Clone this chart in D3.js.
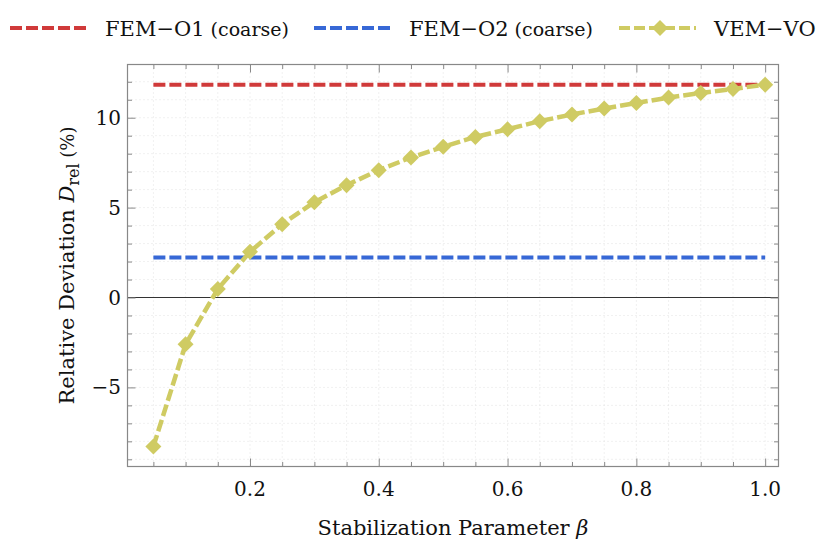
<!DOCTYPE html>
<html>
<head>
<meta charset="utf-8">
<title>Relative deviation vs stabilization parameter</title>
<script src="https://d3js.org/d3.v7.min.js"></script>
<style>
  body { margin: 0; background: #fff; }
  text { font-family: "DejaVu Serif", serif; fill: #111; }
</style>
</head>
<body>
<div id="chart"></div>
<script>
// data
var beta = [0.05, 0.10, 0.15, 0.20, 0.25, 0.30, 0.35, 0.40, 0.45, 0.50,
            0.55, 0.60, 0.65, 0.70, 0.75, 0.80, 0.85, 0.90, 0.95, 1.00]
var vemVO = [-8.29, -2.60, 0.47, 2.54, 4.08, 5.30, 6.25, 7.08, 7.79, 8.38,
             8.93, 9.36, 9.81, 10.18, 10.51, 10.82, 11.12, 11.38, 11.60, 11.84]
var femO1 = 11.84   // coarse, constant
var femO2 = 2.23    // coarse, constant
var xTicks = [0.2, 0.4, 0.6, 0.8, 1.0]
var yTicks = [-5, 0, 5, 10]
var seriesNames = ["FEM\u2212O1", "FEM\u2212O2", "VEM\u2212VO"]
var seriesColors = ["#d03a3a", "#3768d6", "#cfcb63"]

var width = 830, height = 546
var svg = d3.select("#chart").append("svg")
    .attr("width", width)
    .attr("height", height)

// frame box
var fLeft = 127.5, fRight = 778.5, fTop = 64.5, fBottom = 466.5
var x = d3.scaleLinear().domain([0.0098, 1.0207]).range([fLeft, fRight])
var y = d3.scaleLinear().domain([-9.4, 12.96]).range([fBottom, fTop])

var xMinor = d3.range(1, 21).map(function(i) { return i * 0.05 })
var yMinor = d3.range(-9, 13)

// dotted grid
svg.append("g").selectAll("line").data(xMinor).enter().append("line")
    .attr("x1", function(d) { return x(d) }).attr("x2", function(d) { return x(d) })
    .attr("y1", fTop).attr("y2", fBottom)
    .style("stroke", "#e2e2e2").style("stroke-dasharray", "1,3")
svg.append("g").selectAll("line").data(yMinor).enter().append("line")
    .attr("y1", function(d) { return y(d) }).attr("y2", function(d) { return y(d) })
    .attr("x1", fLeft).attr("x2", fRight)
    .style("stroke", "#e2e2e2").style("stroke-dasharray", "1,3")

// zero line
svg.append("line")
    .attr("x1", fLeft).attr("x2", fRight)
    .attr("y1", y(0)).attr("y2", y(0))
    .style("stroke", "#333").style("stroke-width", 1.2)

// axes with inward ticks on all four sides
function isMajorX(d) { return xTicks.some(function(t) { return Math.abs(t - d) < 1e-6 }) }
function isMajorY(d) { return yTicks.indexOf(d) >= 0 }
var tickColor = "#888"
svg.append("g").attr("transform", "translate(0," + fBottom + ")")
    .call(d3.axisBottom(x).tickValues(xMinor).tickSize(0).tickFormat(""))
    .call(function(g) {
        g.select(".domain").remove()
        g.selectAll(".tick line").attr("y2", function(d) { return isMajorX(d) ? -8 : -4.5 })
            .style("stroke", tickColor)
    })
svg.append("g").attr("transform", "translate(0," + fTop + ")")
    .call(d3.axisTop(x).tickValues(xMinor).tickSize(0).tickFormat(""))
    .call(function(g) {
        g.select(".domain").remove()
        g.selectAll(".tick line").attr("y2", function(d) { return isMajorX(d) ? 8 : 4.5 })
            .style("stroke", tickColor)
    })
svg.append("g").attr("transform", "translate(" + fLeft + ",0)")
    .call(d3.axisLeft(y).tickValues(yMinor).tickSize(0).tickFormat(""))
    .call(function(g) {
        g.select(".domain").remove()
        g.selectAll(".tick line").attr("x2", function(d) { return isMajorY(d) ? 8 : 4.5 })
            .style("stroke", tickColor)
    })
svg.append("g").attr("transform", "translate(" + fRight + ",0)")
    .call(d3.axisRight(y).tickValues(yMinor).tickSize(0).tickFormat(""))
    .call(function(g) {
        g.select(".domain").remove()
        g.selectAll(".tick line").attr("x2", function(d) { return isMajorY(d) ? -8 : -4.5 })
            .style("stroke", tickColor)
    })
svg.append("rect")
    .attr("x", fLeft).attr("y", fTop)
    .attr("width", fRight - fLeft).attr("height", fBottom - fTop)
    .style("fill", "none").style("stroke", tickColor).style("stroke-width", 1.2)

// tick labels
svg.append("g").selectAll("text").data(xTicks).enter().append("text")
    .attr("x", function(d) { return x(d) }).attr("y", 496)
    .attr("text-anchor", "middle").style("font-size", "20px")
    .text(function(d) { return d.toFixed(1) })
svg.append("g").selectAll("text").data(yTicks).enter().append("text")
    .attr("x", 121).attr("y", function(d) { return y(d) + 7 })
    .attr("text-anchor", "end").style("font-size", "20px")
    .text(function(d) { return d < 0 ? "\u2212" + Math.abs(d) : d })

// axis titles
var xl = svg.append("text").attr("x", (fLeft + fRight) / 2).attr("y", 535)
    .attr("text-anchor", "middle").style("font-size", "21px")
xl.append("tspan").text("Stabilization Parameter ")
xl.append("tspan").style("font-style", "italic").text("\u03b2")

var yl = svg.append("text")
    .attr("transform", "translate(74," + ((fTop + fBottom) / 2) + ") rotate(-90)")
    .attr("text-anchor", "middle").style("font-size", "21px")
yl.append("tspan").text("Relative Deviation ")
yl.append("tspan").style("font-style", "italic").text("D")
yl.append("tspan").attr("dy", 5).style("font-size", "16px").text("rel")
yl.append("tspan").attr("dy", -5).style("font-size", "18px").text(" (%)")

// reference lines
var dash = "12,4"
svg.append("line")
    .attr("x1", x(beta[0])).attr("x2", x(beta[beta.length - 1]))
    .attr("y1", y(femO1)).attr("y2", y(femO1))
    .style("stroke", seriesColors[0]).style("stroke-width", 4).style("stroke-dasharray", dash)
svg.append("line")
    .attr("x1", x(beta[0])).attr("x2", x(beta[beta.length - 1]))
    .attr("y1", y(femO2)).attr("y2", y(femO2))
    .style("stroke", seriesColors[1]).style("stroke-width", 4).style("stroke-dasharray", dash)

// VEM-VO curve
var line = d3.line()
    .x(function(d, i) { return x(beta[i]) })
    .y(function(d) { return y(d) })
svg.append("path").datum(vemVO)
    .attr("d", line)
    .style("fill", "none").style("stroke", seriesColors[2])
    .style("stroke-width", 4.5).style("stroke-dasharray", dash)
var diamond = d3.symbol().type(d3.symbolSquare).size(128)
svg.append("g").selectAll("path").data(vemVO).enter().append("path")
    .attr("d", diamond)
    .attr("transform", function(d, i) { return "translate(" + x(beta[i]) + "," + y(d) + ") rotate(45)" })
    .style("fill", seriesColors[2])

// legend
var legX = [10, 314, 619]
var legend = svg.append("g")
seriesNames.forEach(function(name, i) {
    var g = legend.append("g").attr("transform", "translate(" + legX[i] + ",28)")
    g.append("line").attr("x1", 0).attr("x2", 77)
        .style("stroke", seriesColors[i]).style("stroke-width", 4)
        .style("stroke-dasharray", i == 2 ? "11,4" : dash)
    if (i == 2) {
        g.append("path").attr("d", diamond)
            .attr("transform", "translate(41,0) rotate(45)")
            .style("fill", seriesColors[i])
    }
    var t = g.append("text").attr("x", 95).attr("y", 8).style("font-size", "21px")
    t.append("tspan").text(name)
    if (i < 2) t.append("tspan").style("font-size", "19px").text(" (coarse)")
})
</script>
</body>
</html>
